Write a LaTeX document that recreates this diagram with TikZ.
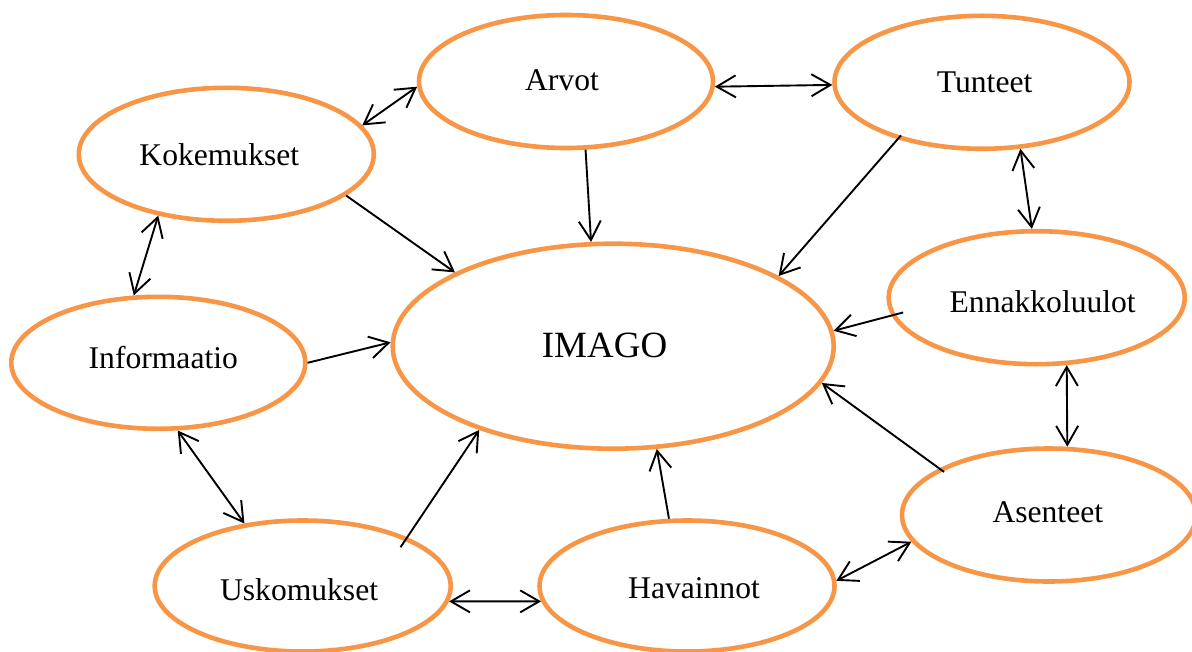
\documentclass[tikz,border=0pt]{standalone}
\usepackage{fontspec}
\setmainfont{Liberation Serif}
\usetikzlibrary{arrows.meta,shapes.geometric}
\definecolor{ringorange}{RGB}{247,150,70}
\tikzset{
  el/.style={ellipse, draw=ringorange, line width=2.3pt, inner sep=0pt, fill=white},
  lab/.style={font=\fontsize{15.8pt}{18pt}\selectfont, inner sep=0pt},
  biglab/.style={font=\fontsize{18.5pt}{22pt}\selectfont, inner sep=0pt},
  con/.style={draw=black, line width=0.95pt},
  tip/.style={-{Straight Barb[length=9.5pt,width=11pt,line width=0.95pt]}},
  tips/.style={{Straight Barb[length=9.5pt,width=11pt,line width=0.95pt]}-{Straight Barb[length=9.5pt,width=11pt,line width=0.95pt]}}
}
\begin{document}
\begin{tikzpicture}[x=0.5pt,y=-0.5pt]
\useasboundingbox (0,0) rectangle (1192,652);
\begin{scope}
\clip (0,0) rectangle (1192,652);
% ellipses
\node[el, minimum width=147pt, minimum height=66.5pt,
  label={[lab,xshift=-2pt,yshift=0.7pt]center:Arvot}] (arvot) at (566,81.5) {};
\node[el, minimum width=147.5pt, minimum height=66.5pt,
  label={[lab,xshift=1.3pt,yshift=0pt]center:Tunteet}] (tunteet) at (982,82.3) {};
\node[el, minimum width=147.5pt, minimum height=66.5pt,
  label={[lab,xshift=-3.5pt,yshift=0pt]center:Kokemukset}] (koke) at (226.3,154.3) {};
\node[el, minimum width=220.5pt, minimum height=102.5pt,
  label={[biglab,xshift=-4.3pt,yshift=0.4pt]center:IMAGO}] (imago) at (613.2,346.2) {};
\node[el, minimum width=147pt, minimum height=66pt,
  label={[lab,xshift=2.5pt,yshift=2.4pt]center:Informaatio}] (info) at (158.3,362.8) {};
\node[el, minimum width=148pt, minimum height=66.5pt,
  label={[lab,xshift=3pt,yshift=-2.1pt]center:Ennakkoluulot}] (ennak) at (1036.7,297.7) {};
\node[el, minimum width=147pt, minimum height=66.5pt,
  label={[lab,xshift=-0.6pt,yshift=1.2pt]center:Asenteet}] (asent) at (1049,515) {};
\node[el, minimum width=148pt, minimum height=65.5pt,
  label={[lab,xshift=-1.8pt,yshift=-1.6pt]center:Uskomukset}] (usko) at (302.7,586) {};
\node[el, minimum width=147.5pt, minimum height=65.5pt,
  label={[lab,xshift=3.5pt,yshift=-1.1pt]center:Havainnot}] (havai) at (687,586) {};
\end{scope}
% connectors
\draw[con,tips] (koke.12.6) -- (arvot.182.5);
\draw[con,tips] (arvot.-2.2) -- (tunteet.181.9);
\draw[con,tip] (arvot.-74.8) -- (imago.102.3);
\draw[con,tip,shorten <=-2.5pt] (tunteet.214.1) -- (imago.23.4);
\draw[con,tips] (tunteet.-60.7) -- (ennak.94.2);
\draw[con,tip] (koke.-19.8) -- (imago.155.9);
\draw[con,tips] (koke.222.5) -- (info.110.2);
\draw[con,tip] (info.-0.2) -- (imago.179.7);
\draw[con,tip,shorten <=-6pt] (ennak.187) -- (imago.4.9);
\draw[con,tips] (ennak.-66.7) -- (asent.75.5);
\draw[con,tip,shorten <=-3pt] (asent.157.3) -- (imago.-10.7);
\draw[con,tips] (info.-74.8) -- (usko.133);
\draw[con,tip,shorten <=-6pt] (usko.25.5) -- (imago.212.5);
\draw[con,tips] (usko.-6.9) -- (havai.186);
\draw[con,tip] (havai.105.6) -- (imago.-67.6);
\draw[con,tips] (havai.2.3) -- (asent.191.9);
\end{tikzpicture}
\end{document}
